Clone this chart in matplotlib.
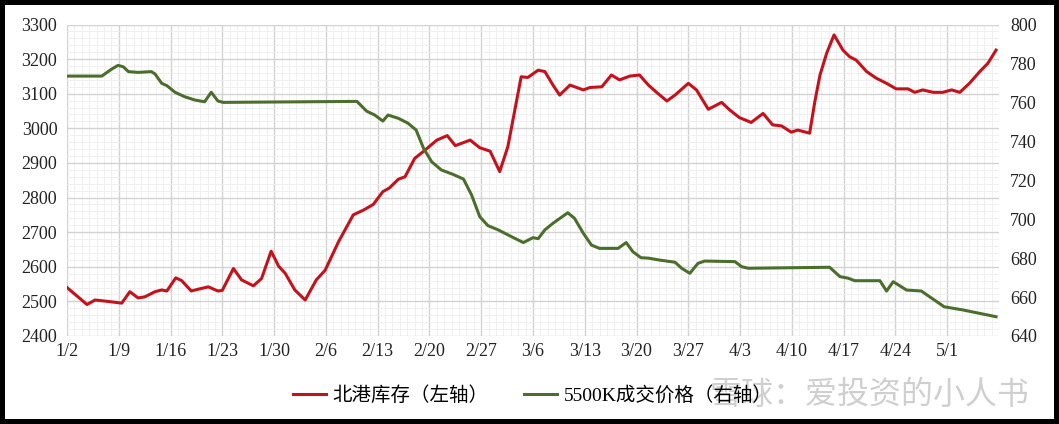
import matplotlib.pyplot as plt
from matplotlib.ticker import MultipleLocator

plt.rcParams['font.family'] = ['Liberation Serif', 'Noto Sans CJK SC', 'DejaVu Sans']

# days counted from 1/2
port_days = [0, 2.7, 3.8, 5.5, 7.4, 8.5, 9.6, 10.5, 11.9, 12.8, 13.5, 14.7, 15.5, 16.8,
             17.7, 19.1, 20.4, 21, 22.5, 23.6, 25.2, 26.3, 27.6, 28.6, 29.5, 30.8, 32.2,
             33.7, 34.9, 36.7, 38.7, 40.1, 41.4, 42.7, 43.6, 44.8, 45.7, 47, 48.4, 50,
             51.4, 52.5, 54.5, 55.8, 57.2, 58.5, 59.6, 60.5, 61.4, 62.3, 63.7, 64.6,
             65.7, 66.6, 68, 69.8, 70.7, 72.3, 73.6, 74.7, 76.1, 77.4, 78.6, 79.7, 81.1,
             82.2, 84, 85.1, 86.7, 88.5, 89.6, 90.9, 92.5, 94.1, 95.4, 96.6, 97.9, 98.8,
             100.4, 101.1, 101.8, 102.7, 103.7, 104.9, 105.8, 106.7, 108.1, 109.4,
             110.8, 112.1, 113.7, 114.6, 115.7, 117.1, 118.4, 119.6, 120.7, 122, 123.4,
             124.5, 125.6]
port_stock = [2540, 2491, 2504, 2500, 2495, 2528, 2510, 2513, 2528, 2533, 2530, 2568, 2560,
              2530, 2535, 2542, 2530, 2532, 2595, 2562, 2545, 2566, 2645, 2602, 2581, 2533,
              2504, 2562, 2590, 2672, 2750, 2764, 2780, 2817, 2828, 2853, 2860, 2913, 2937,
              2966, 2979, 2950, 2966, 2944, 2934, 2875, 2947, 3048, 3149, 3147, 3168, 3164,
              3125, 3096, 3125, 3111, 3118, 3120, 3154, 3140, 3151, 3154, 3125, 3104, 3079,
              3096, 3130, 3111, 3055, 3075, 3053, 3031, 3017, 3043, 3010, 3007, 2989, 2995,
              2986, 3077, 3154, 3217, 3270, 3226, 3207, 3197, 3164, 3145, 3130, 3114, 3114,
              3104, 3111, 3104, 3104, 3111, 3104, 3130, 3164, 3188, 3226]

price_days = [0, 4.7, 6, 6.9, 7.6, 8.3, 9.6, 11.4, 11.9, 12.8, 13.5, 14.6, 15.9, 17.3, 18.6,
              19.5, 20.4, 21.1, 39.2, 40.5, 41.6, 42.7, 43.4, 44.8, 46.1, 47.2, 48.2, 49.3,
              50.6, 52.2, 53.6, 54.7, 55.8, 56.9, 58.3, 60.1, 61.7, 63, 63.7, 64.6, 65.7,
              67.7, 68.6, 69.8, 70.9, 72, 74.5, 75.6, 76.5, 77.6, 78.6, 80.1, 82.2, 83.1,
              84.2, 85.3, 86.2, 90.3, 91.2, 92.1, 103.1, 104.5, 105.6, 106.5, 109.9, 110.8,
              111.7, 113.5, 115.5, 116.6, 118.6, 121.1, 125.6]
price_5500 = [773.5, 773.5, 777, 779, 778.3, 775.8, 775.4, 775.8, 774.6, 769.8, 768.6, 765.2,
              762.9, 761.2, 760.3, 765.2, 760.7, 760, 760.5, 755.5, 753.5, 750.4, 753.5,
              751.8, 749.3, 745.8, 736.4, 729.5, 725.3, 723, 720.6, 712.4, 701.3, 696.7,
              694.5, 691, 688, 690.5, 690, 694.5, 697.9, 703.3, 700.5, 692.8, 686.7, 685,
              685, 688, 683.3, 680.2, 680, 679, 677.9, 674.8, 672.2, 677.3, 678.5, 678.2,
              675.6, 674.8, 675.3, 670.5, 669.7, 668.4, 668.4, 663.1, 667.9, 663.6, 663.1,
              660.2, 655, 653.4, 649.9]

tick_days = list(range(0, 120, 7))
tick_labels = ['1/2', '1/9', '1/16', '1/23', '1/30', '2/6', '2/13', '2/20', '2/27',
               '3/6', '3/13', '3/20', '3/27', '4/3', '4/10', '4/17', '4/24', '5/1']

fig = plt.figure(figsize=(10.59, 4.24), dpi=100)
fig.patch.set_edgecolor('black')
fig.patch.set_linewidth(6)
ax = fig.add_axes([67 / 1059, 1 - 336 / 424, 932 / 1059, (336 - 24.5) / 424])
ax2 = ax.twinx()

l1, = ax.plot(port_days, port_stock, color='#c4121c', lw=2.2, solid_joinstyle='round',
              label='北港库存（左轴）', zorder=3)
l2, = ax2.plot(price_days, price_5500, color='#4b6e2c', lw=2.2, solid_joinstyle='round',
               label='5500K成交价格（右轴）', zorder=3)

ax.set_xlim(0, 126)
ax.set_ylim(2400, 3300)
ax2.set_ylim(640, 800)
ax.set_xticks(tick_days)
ax.set_xticklabels(tick_labels)
ax.yaxis.set_major_locator(MultipleLocator(100))
ax.yaxis.set_minor_locator(MultipleLocator(20))
ax.xaxis.set_minor_locator(MultipleLocator(1))
ax2.yaxis.set_major_locator(MultipleLocator(20))

ax.grid(which='major', color='#d2d2d2', lw=1.0)
ax.grid(which='minor', color='#eeeeee', lw=0.6)
ax.set_axisbelow(True)

for a in (ax, ax2):
    for s in a.spines.values():
        s.set_visible(False)
    a.tick_params(which='both', length=0, labelsize=13, colors='#222222')
ax.tick_params(axis='x', pad=5)
ax.tick_params(axis='y', pad=7)
ax2.tick_params(axis='y', pad=8)

fig.legend(handles=[l1, l2], loc='center', bbox_to_anchor=(0.503, 0.068), ncol=2,
           frameon=False, fontsize=14, handlelength=1.7, columnspacing=1.8,
           handletextpad=0.35)

fig.text(0.972, 0.068, '雪球：爱投资的小人书', ha='right', va='center', fontsize=23,
         color='#bbbbbb', alpha=0.7, family=['Noto Sans CJK SC', 'DejaVu Sans'])

fig.savefig('out.png', dpi=100, edgecolor=fig.get_edgecolor())
